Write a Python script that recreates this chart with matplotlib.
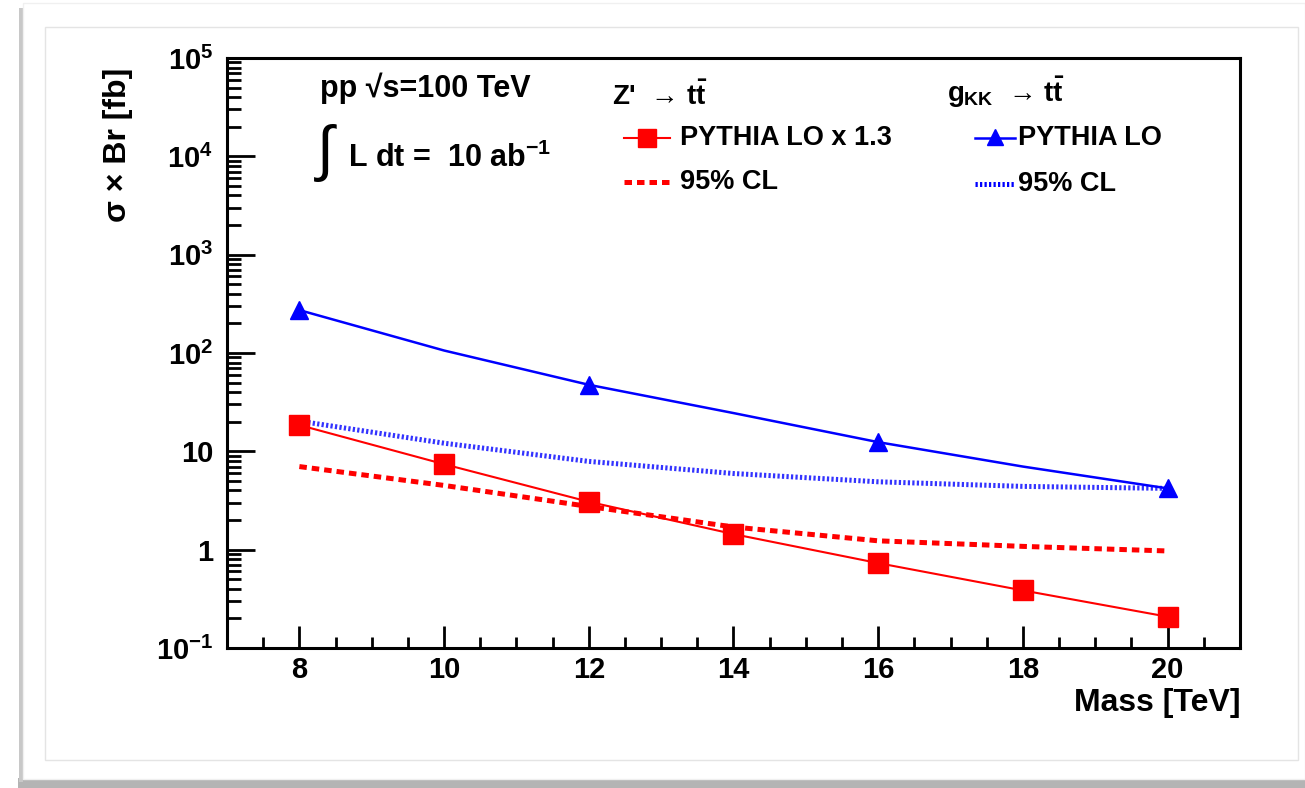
import numpy as np
import matplotlib
matplotlib.use('Agg')
from matplotlib import pyplot as plt
from matplotlib.lines import Line2D
from matplotlib.patches import Rectangle
from matplotlib.ticker import FixedLocator, MultipleLocator, LogLocator, NullFormatter

plt.rcParams['font.family'] = ['Liberation Sans', 'DejaVu Sans']
plt.rcParams['font.weight'] = 'bold'
plt.rcParams['mathtext.fontset'] = 'custom'
plt.rcParams['mathtext.rm'] = 'Liberation Sans:bold'
plt.rcParams['mathtext.bf'] = 'Liberation Sans:bold'
plt.rcParams['mathtext.it'] = 'Liberation Sans:bold'
plt.rcParams['mathtext.sf'] = 'Liberation Sans:bold'

# data
mass = [8, 10, 12, 14, 16, 18, 20]
zprime_lo = [18.5, 7.4, 3.07, 1.44, 0.73, 0.385, 0.208]     # PYTHIA LO x 1.3
zprime_cl = [7.0, 4.5, 2.75, 1.70, 1.23, 1.08, 0.97]        # 95% CL
gkk_curve = [273, 106, 47.5, 24.5, 12.4, 7.0, 4.2]          # PYTHIA LO line
gkk_mass = [8, 12, 16, 20]
gkk_lo = [273, 47.5, 12.4, 4.2]                             # PYTHIA LO points
gkk_cl = [20.3, 12.1, 7.9, 5.95, 4.9, 4.4, 4.2]             # 95% CL

xticks = [8, 10, 12, 14, 16, 18, 20]
yticks = [0.1, 1, 10, 100, 1000, 1e4, 1e5]
ytick_labels = ['$10^{-1}$', '1', '10', '$10^{2}$', '$10^{3}$', '$10^{4}$', '$10^{5}$']

W, H = 1305, 788
def fx(px):
    return px / W
def fy(py):
    return 1 - py / H

fig = plt.figure(figsize=(W / 100, H / 100), dpi=100)
fig.patch.set_facecolor('white')

# frame / shadow decoration (behind everything)
deco = [
    Rectangle((fx(18), fy(788)), fx(1305) - fx(18), 10 / H, facecolor='#b4b4b4', edgecolor='none'),
    Rectangle((fx(19), fy(782)), 4 / W, (782 - 8) / H, facecolor='#c8c8c8', edgecolor='none'),
    Rectangle((fx(23), fy(779)), fx(1305) - fx(23), (779 - 3) / H, facecolor='white', edgecolor='#f0f0f0', lw=1),
    Rectangle((fx(45), fy(760)), fx(1298) - fx(45), (760 - 27) / H, facecolor='white', edgecolor='#e4e4e4', lw=1),
]
for r in deco:
    r.set_transform(fig.transFigure)
    r.set_zorder(-10)
    fig.patches.append(r)

ax = fig.add_axes([fx(227), fy(648), fx(1240) - fx(227), (648 - 58) / H])
ax.set_facecolor('none')
ax.set_zorder(5)

red = '#ff0000'
blue = '#0000ff'

ax.plot(mass, gkk_cl, color=blue, lw=3.6, linestyle=(0, (0.45, 0.45)), alpha=0.8, dash_capstyle='butt')
ax.plot(mass, zprime_cl, color=red, lw=3.6, linestyle=(0, (1.5, 1.0)), dash_capstyle='butt')
ax.plot(mass, gkk_curve, color=blue, lw=1.8)
ax.plot(gkk_mass, gkk_lo, color=blue, lw=0, marker='^', markersize=13)
ax.plot(mass, zprime_lo, color=red, lw=1.5, marker='s', markersize=14)

ax.set_yscale('log')
ax.set_xlim(7, 21)
ax.set_ylim(0.1, 1e5)

ax.xaxis.set_major_locator(FixedLocator(xticks))
ax.xaxis.set_minor_locator(MultipleLocator(0.5))
ax.set_xticklabels([str(t) for t in xticks])
ax.yaxis.set_major_locator(FixedLocator(yticks))
ax.yaxis.set_minor_locator(LogLocator(base=10, subs=np.arange(2, 10)))
ax.yaxis.set_minor_formatter(NullFormatter())
ax.set_yticklabels(ytick_labels)

for s in ax.spines.values():
    s.set_linewidth(2.2)
ax.tick_params(which='both', direction='in', top=False, right=False, width=2, labelsize=21)
ax.tick_params(axis='x', which='major', length=16, pad=6)
ax.tick_params(axis='x', which='minor', length=8)
ax.tick_params(axis='y', which='major', length=20, pad=10)
ax.tick_params(axis='y', which='minor', length=10)

# axis titles
fig.text(fx(1240), fy(703), 'Mass [TeV]', ha='right', va='center', fontsize=23)
fig.text(fx(118), fy(68), 'σ × Br [fb]', ha='center', va='top', rotation=90, fontsize=23)

# annotations
fig.text(fx(320), fy(88), 'pp √s=100 TeV', ha='left', va='center', fontsize=22)
fig.text(fx(317), fy(153), '∫', ha='left', va='center', fontsize=44, fontweight='normal')
fig.text(fx(348), fy(158), 'L dt =  10 ab$^{-1}$', ha='left', va='center', fontsize=22)

# legend block: Z'
fig.text(fx(612), fy(96), "Z'  → $t\\bar{t}$", ha='left', va='center', fontsize=20)
fig.add_artist(Line2D([fx(624), fx(670)], [fy(138), fy(138)], color=red, lw=1.5, transform=fig.transFigure))
fig.add_artist(Line2D([fx(647)], [fy(138)], color=red, marker='s', markersize=13, transform=fig.transFigure))
fig.text(fx(680), fy(138), 'PYTHIA LO x 1.3', ha='left', va='center', fontsize=19.5)
fig.add_artist(Line2D([fx(624), fx(670)], [fy(182), fy(182)], color=red, lw=3.6,
                      linestyle=(0, (1.5, 1.0)), transform=fig.transFigure))
fig.text(fx(680), fy(182), '95% CL', ha='left', va='center', fontsize=19.5)

# legend block: g_KK
fig.text(fx(947), fy(92), '$g_{KK}$  → $t\\bar{t}$', ha='left', va='center', fontsize=20)
fig.add_artist(Line2D([fx(975), fx(1015)], [fy(138), fy(138)], color=blue, lw=1.8, transform=fig.transFigure))
fig.add_artist(Line2D([fx(995)], [fy(137)], color=blue, marker='^', markersize=12, transform=fig.transFigure))
fig.text(fx(1018), fy(138), 'PYTHIA LO', ha='left', va='center', fontsize=19.5)
fig.add_artist(Line2D([fx(975), fx(1015)], [fy(184), fy(184)], color=blue, lw=3.6,
                      linestyle=(0, (0.45, 0.45)), transform=fig.transFigure))
fig.text(fx(1018), fy(184), '95% CL', ha='left', va='center', fontsize=19.5)

fig.savefig('out.png', dpi=100)
